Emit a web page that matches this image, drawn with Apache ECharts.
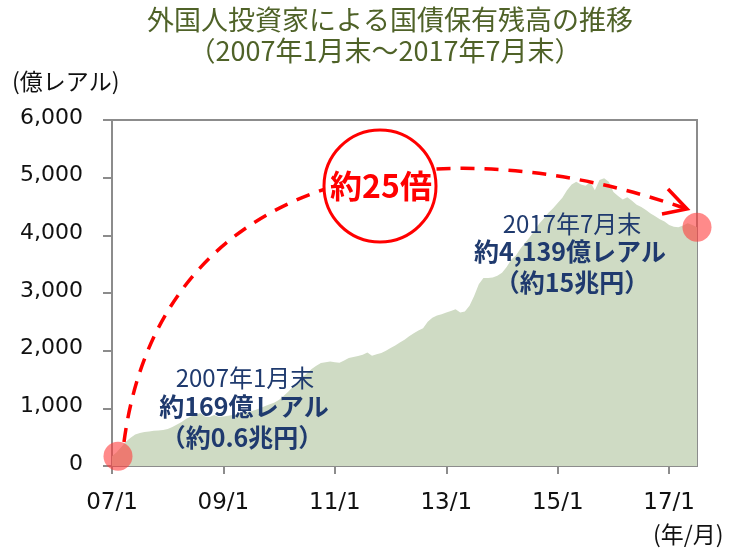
<!DOCTYPE html>
<html>
<head>
<meta charset="utf-8">
<script src="https://cdn.jsdelivr.net/npm/echarts@6/dist/echarts.min.js"></script>
<style>html,body{margin:0;padding:0;background:#fff;}#c{width:747px;height:551px;}</style>
</head>
<body>
<div id="c"></div>
<script>
// monthly holdings, 2007/1 .. 2017/7 (億レアル)
var startYear = 2007;
var monthCount = 127;
var values = [
 169,240,330,420,490,545,572,590,600,610,615,625,
 640,676,720,763,820,860,884,919,860,850,884,850,
 860,870,884,900,915,936,950,975,1006,1040,1070,1100,
 1150,1220,1290,1380,1450,1540,1610,1680,1740,1786,1800,1810,
 1800,1790,1830,1873,1890,1907,1930,1970,1910,1940,1960,2000,
 2046,2090,2140,2190,2250,2300,2350,2390,2500,2570,2610,2630,
 2660,2690,2720,2660,2680,2780,2950,3150,3260,3260,3270,3300,
 3350,3450,3580,3650,3770,3870,3970,4080,4200,4290,4390,4470,
 4560,4650,4780,4880,4930,4880,4860,4925,4780,4960,4990,4930,
 4750,4680,4620,4660,4600,4530,4490,4440,4380,4330,4280,4240,
 4180,4150,4140,4170,4210,4180,4139
];
var highlightIdx = [0, 126];
var yTicks = [0,1000,2000,3000,4000,5000,6000];

var categories = [];
for (var i = 0; i < monthCount; i++) {
  var y = startYear + Math.floor(i / 12);
  var m = (i % 12) + 1;
  categories.push(String(y).slice(2) + '/' + m);
}
var highlight = highlightIdx.map(function (i, k) {
  return { value: [categories[i], values[i]], symbolOffset: k === 0 ? [6, 0] : [0, 0] };
});

var chart = echarts.init(document.getElementById('c'));
var axisColor = '#8c8c8c';
var navy = '#1f3a6e';
var jp = '"Noto Sans CJK JP", "Noto Sans", sans-serif';
var num = '"DejaVu Sans", sans-serif';

chart.setOption({
  animation: false,
  grid: { left: 112, right: 50, top: 120, bottom: 85, show: true, borderColor: axisColor, borderWidth: 2, backgroundColor: 'transparent' },
  xAxis: {
    type: 'category', data: categories, boundaryGap: false,
    axisLine: { lineStyle: { color: axisColor, width: 2 } },
    axisTick: { length: 8, interval: function (i) { return i % 24 === 0; }, lineStyle: { color: axisColor, width: 2 } },
    axisLabel: { interval: function (i) { return i % 24 === 0; }, margin: 26, fontSize: 23, color: '#111', fontFamily: num },
    splitLine: { show: false }
  },
  yAxis: {
    type: 'value', min: yTicks[0], max: yTicks[yTicks.length - 1], interval: 1000,
    axisLine: { show: true, lineStyle: { color: axisColor, width: 2 } },
    axisTick: { show: true, length: 9, lineStyle: { color: axisColor, width: 2 } },
    axisLabel: { margin: 29, fontSize: 22, color: '#111', fontFamily: num, verticalAlign: 'bottom', lineHeight: 26, padding: [0, 0, -11, 0],
      formatter: function (v) { return v.toLocaleString('en-US'); } },
    splitLine: { show: false }
  },
  series: [
    { type: 'line', data: values, symbol: 'none', lineStyle: { width: 0 },
      areaStyle: { color: '#cfdbc4', opacity: 1 }, z: 1 },
    { type: 'scatter', data: highlight, symbolSize: 29, clip: false,
      itemStyle: { color: 'rgba(255,60,60,0.75)' }, z: 5 }
  ],
  graphic: [
    { type: 'text', z: 12, x: 390, y: 6, style: { text: '外国人投資家による国債保有残高の推移', fontSize: 27, fill: '#4f6228', align: 'center', fontFamily: jp } },
    { type: 'text', z: 12, x: 385, y: 37, style: { text: '（2007年1月末～2017年7月末）', fontSize: 27, fill: '#4f6228', align: 'center', fontFamily: jp } },
    { type: 'text', z: 12, x: 12, y: 70, style: { text: '(億レアル)', fontSize: 23, fill: '#111', fontFamily: jp } },
    { type: 'text', z: 12, x: 653, y: 523, style: { text: '(年/月)', fontSize: 23, fill: '#111', fontFamily: jp } },
    { type: 'bezierCurve', z: 10,
      shape: { x1: 124, y1: 442, cpx1: 160, cpy1: 170, cpx2: 430, cpy2: 120, x2: 684, y2: 208 },
      style: { stroke: '#ff0000', lineWidth: 3.5, lineDash: [14, 10], fill: null } },
    { type: 'polyline', z: 10, shape: { points: [[668, 189], [687, 209], [662, 214]] },
      style: { stroke: '#ff0000', lineWidth: 3.5, fill: null } },
    { type: 'circle', z: 11, shape: { cx: 380, cy: 186, r: 56 }, style: { fill: '#fff', stroke: '#ff0000', lineWidth: 3 } },
    { type: 'text', z: 12, x: 381, y: 186, style: { text: '約25倍', fontSize: 32, fontWeight: 'bold', fill: '#ff0000', align: 'center', verticalAlign: 'middle', fontFamily: jp } },
    { type: 'text', z: 12, x: 245, y: 378, style: { text: '2007年1月末', fontSize: 24, fill: navy, align: 'center', verticalAlign: 'middle', fontFamily: jp } },
    { type: 'text', z: 12, x: 244, y: 406, style: { text: '約169億レアル', fontSize: 25, fontWeight: 'bold', fill: navy, align: 'center', verticalAlign: 'middle', fontFamily: jp } },
    { type: 'text', z: 12, x: 242, y: 437, style: { text: '（約0.6兆円）', fontSize: 25, fontWeight: 'bold', fill: navy, align: 'center', verticalAlign: 'middle', fontFamily: jp } },
    { type: 'text', z: 12, x: 572, y: 224, style: { text: '2017年7月末', fontSize: 24, fill: navy, align: 'center', verticalAlign: 'middle', fontFamily: jp } },
    { type: 'text', z: 12, x: 570, y: 251, style: { text: '約4,139億レアル', fontSize: 25, fontWeight: 'bold', fill: navy, align: 'center', verticalAlign: 'middle', fontFamily: jp } },
    { type: 'text', z: 12, x: 572, y: 282, style: { text: '（約15兆円）', fontSize: 25, fontWeight: 'bold', fill: navy, align: 'center', verticalAlign: 'middle', fontFamily: jp } }
  ]
});
</script>
</body>
</html>
